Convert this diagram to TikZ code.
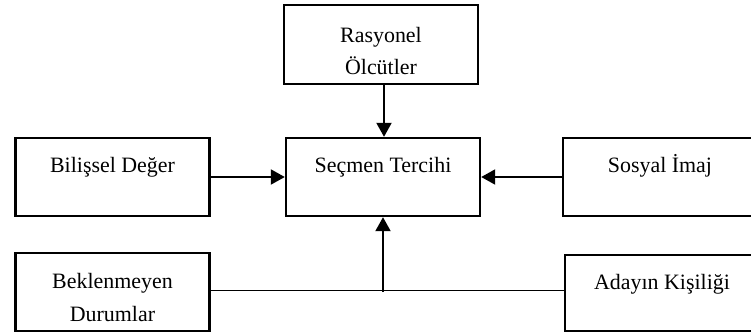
\documentclass[tikz,border=0pt]{standalone}
\usepackage{fontspec}
\setmainfont{Liberation Serif}
\usetikzlibrary{arrows.meta,calc}
\begin{document}
\begin{tikzpicture}[x=1bp,y=-1bp,
 box/.style={draw,line width=2.4bp,minimum width=194bp,minimum height=78bp,inner sep=0pt},
 txt/.style={anchor=base,inner sep=0pt,font=\fontsize{22}{26}\selectfont},
 arr/.style={line width=2bp,-{Triangle[length=14bp,width=15bp]}},
 thinline/.style={line width=0.9bp}]
\useasboundingbox (0,0) rectangle (751,334);
\clip (0,0) rectangle (751,334);
\fill[white] (0,0) rectangle (751,334);
% boxes
\node[box, minimum height=79bp] (R) at (381,44.5) {};
\node[box] (B) at (112.5,177) {};
\node[box] (S) at (383,177) {};
\node[box] (So) at (660,177) {};
\node[box] (K) at (112.5,292) {};
\node[box, minimum height=76bp] (A) at (662,293) {};
% texts
\node[txt] (Rt1) at (381,42.5) {Rasyonel};
\node[txt] (Rt2) at (381,74.5) {Ölcütler};
\node[txt] (Bt) at (112.5,172.3) {Bilişsel Değer};
\node[txt] (St) at (383,172.3) {Seçmen Tercihi};
\node[txt] (Sot) at (660,172.3) {Sosyal İmaj};
\node[txt] (Kt1) at (112.5,288.3) {Beklenmeyen};
\node[txt] (Kt2) at (112.5,321.3) {Durumlar};
\node[txt] (At) at (662,289) {Adayın Kişiliği};
% connectors
\draw[arr] ([xshift=3bp]R.south) -- ([xshift=3bp]R.south |- S.north);
\draw[arr] (B.east) -- (S.west);
\draw[arr] (So.west) -- (S.east);
\draw[thinline] ([yshift=2bp]K.east) -- ([yshift=2bp]K.east -| A.west);
\coordinate (J) at (K.east -| S.south);
\draw[arr] (J) -- (S.south);
\end{tikzpicture}
\end{document}
